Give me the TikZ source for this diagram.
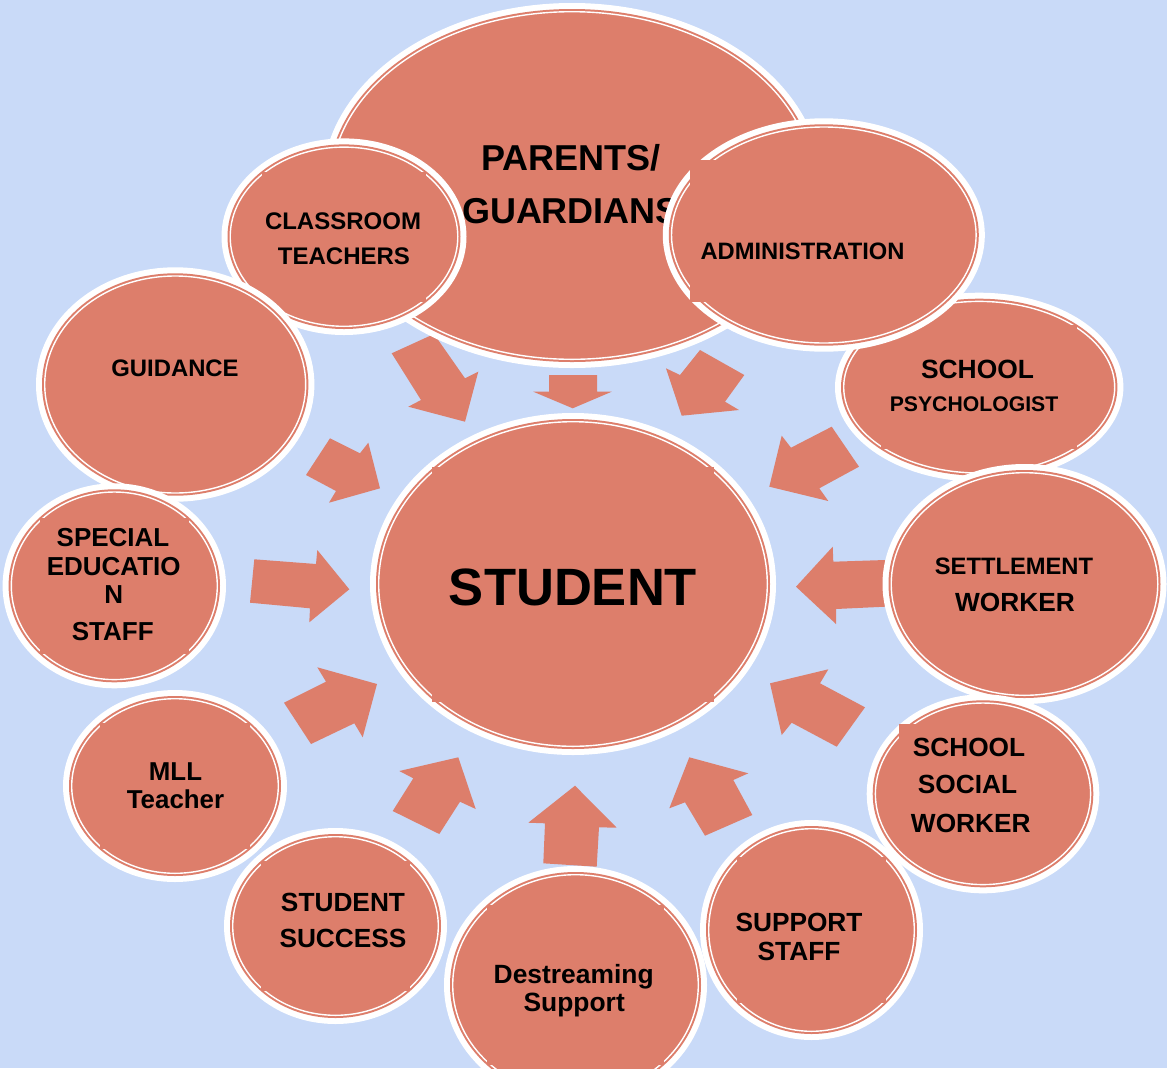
\documentclass[tikz,border=0pt]{standalone}
\usepackage{fontspec}
\setmainfont{Liberation Sans}
\definecolor{salm}{HTML}{DD7E6B}
\definecolor{bgblue}{HTML}{C9DAF8}
\newcommand{\szz}[1]{\fontsize{#1pt}{#1pt}\selectfont\bfseries}
\tikzset{
  lbl/.style={text=black, inner sep=0pt, anchor=base},
  blockarrow/.style={fill=salm},
}
\newcommand{\bubble}[5]{%
  \coordinate (#1) at (#2,#3);
  \fill[white] (#1) ellipse [x radius=#4, y radius=#5];
  \fill[salm] (#1) ellipse [x radius=#4-6, y radius=#5-6];
  \draw[white, line width=1.05pt] (#1) ellipse [x radius=#4-8.7, y radius=#5-8.7];
}
\newcommand{\ticks}[4]{%
  \pgfmathsetmacro\tkx{0.724*(#3-8.7)}%
  \pgfmathsetmacro\tky{0.724*(#4-8.7)}%
  \fill[salm] (#1-\tkx,#2-\tky) rectangle (#1+\tkx,#2+\tky);
}
\begin{document}
\begin{tikzpicture}[x=0.75pt, y=-0.75pt]
\useasboundingbox (0,0) rectangle (1167,1068);
\fill[bgblue] (0,0) rectangle (1167,1068);
\clip (0,0) rectangle (1167,1068);

% block arrows
\fill[blockarrow] (391.7,353.3) -- (421,400) -- (408.3,406.7) -- (465,421.7) -- (478.3,371.7) -- (465,378.3) -- (434,334) -- cycle;
\fill[blockarrow] (549,375) -- (549,391.7) -- (533.3,391.7) -- (572.7,408.3) -- (611.7,391.7) -- (597,391.7) -- (597,375) -- cycle;
\fill[blockarrow] (700,350) -- (680,375) -- (666,368.3) -- (681.7,415.7) -- (739,410) -- (725,401.7) -- (744.3,375) -- cycle;
\fill[blockarrow] (330,438.3) -- (360,453.3) -- (368.3,442.7) -- (380,488.3) -- (329,502.7) -- (336,491) -- (306,475) -- cycle;
\fill[blockarrow] (831.7,426.7) -- (791,447.7) -- (781.7,435.7) -- (769.3,486.7) -- (828.3,501) -- (819.3,488.3) -- (859,466.7) -- cycle;
\fill[blockarrow] (254.3,559.3) -- (316,564) -- (317.3,550) -- (349.3,589.3) -- (309.3,622.3) -- (310,608.3) -- (250,602.7) -- cycle;
\fill[blockarrow] (885,560) -- (833.3,561.7) -- (832.7,546.7) -- (796,586.7) -- (836,624) -- (836,609) -- (885,606.7) -- cycle;
\fill[blockarrow] (311,744) -- (284,702.7) -- (326,681.7) -- (317.3,667.3) -- (377,684) -- (362.7,737.3) -- (354.3,723.3) -- cycle;
\fill[blockarrow] (865,707.3) -- (820,683.3) -- (828.3,669.3) -- (770,683.3) -- (781.7,735) -- (791.7,722.7) -- (836.7,746.7) -- cycle;
\fill[blockarrow] (439.3,834) -- (392.7,811) -- (413.3,778.3) -- (399.3,771) -- (458.3,757.3) -- (475.7,809) -- (460,801.7) -- cycle;
\fill[blockarrow] (543.3,863.3) -- (545,823.3) -- (528.3,822.7) -- (575,785.7) -- (616.7,827.7) -- (599,827.3) -- (596.7,866.7) -- cycle;
\fill[blockarrow] (752.3,815) -- (733.3,780) -- (748.3,773.3) -- (689.3,757.3) -- (669.3,808.3) -- (685,802.3) -- (705,835.7) -- cycle;

% parents / guardians
\bubble{parents}{572}{185.5}{250}{182.5}
\node[lbl, font=\szz{27}] (tpa) at (571,170) {PARENTS/};
\node[lbl, font=\szz{27}] (tpb) at (571,223) {GUARDIANS};

% classroom teachers
\bubble{classroom}{344}{236.7}{122.5}{98.3}
\ticks{344}{236.7}{122.5}{98.3}
\node[lbl, font=\szz{18}] (tca) at (343,229.3) {CLASSROOM};
\node[lbl, font=\szz{18}] (tcb) at (344,264) {TEACHERS};

% school psychologist
\bubble{psych}{979.2}{387.2}{144.2}{94.5}
\ticks{979.2}{387.2}{144.2}{94.5}
\node[lbl, font=\szz{19.8}] (tpsa) at (977.5,378.3) {SCHOOL};
\node[lbl, font=\szz{15.9}] (tpsb) at (974,411.7) {PSYCHOLOGIST};

% administration
\bubble{admin}{823.8}{235}{161}{116.7}
\fill[salm] (690,160) rectangle (900,302);
\node[lbl, font=\szz{17.8}] (tad) at (802.5,259.3) {ADMINISTRATION};

% guidance
\bubble{guidance}{175.2}{384.5}{139.2}{117.2}
\node[lbl, font=\szz{17.9}] (tgu) at (175,376.7) {GUIDANCE};

% special education staff
\bubble{speced}{114.3}{585.8}{111.7}{102.5}
\ticks{114.3}{585.8}{111.7}{102.5}
\node[lbl, font=\szz{19.5}] (tsea) at (113,546.7) {SPECIAL};
\node[lbl, font=\szz{19.5}] (tseb) at (113.7,575) {EDUCATIO};
\node[lbl, font=\szz{19.5}] (tsec) at (113.8,603.3) {N};
\node[lbl, font=\szz{19.5}] (tsed) at (112.8,640.7) {STAFF};

% settlement worker
\bubble{settle}{1024.5}{584}{142}{120}
\node[lbl, font=\szz{17.8}] (tsta) at (1014,574.5) {SETTLEMENT};
\node[lbl, font=\szz{19.7}] (tstb) at (1015,611.4) {WORKER};

% student
\bubble{student}{573}{584}{203}{171}
\ticks{573}{584}{203}{171}
\node[lbl, font=\szz{39.4}] (tstu) at (573,605.5) {STUDENT};

% MLL teacher
\bubble{mll}{175}{786}{112}{96}
\ticks{175}{786}{112}{96}
\node[lbl, font=\szz{19.4}] (tmla) at (175.5,780) {MLL};
\node[lbl, font=\szz{19.4}] (tmlb) at (175.5,808) {Teacher};

% school social worker
\bubble{social}{983}{793.8}{116.3}{99.5}
\fill[salm] (899,723.5) rectangle (1040,850);
\node[lbl, font=\szz{19.7}] (tswa) at (969,756) {SCHOOL};
\node[lbl, font=\szz{19.7}] (tswb) at (967.5,793.3) {SOCIAL};
\node[lbl, font=\szz{19.7}] (tswc) at (970.8,832.3) {WORKER};

% student success
\bubble{success}{335.5}{926}{111.5}{98}
\ticks{335.5}{926}{111.5}{98}
\node[lbl, font=\szz{19.7}] (tssa) at (343,911.4) {STUDENT};
\node[lbl, font=\szz{19.7}] (tssb) at (343,947.4) {SUCCESS};

% destreaming support
\bubble{destream}{575.5}{985}{131.5}{119}
\ticks{575.5}{985}{131.5}{119}
\node[lbl, font=\szz{19.8}] (tdsa) at (573.7,983.3) {Destreaming};
\node[lbl, font=\szz{19.8}] (tdsb) at (574.2,1011.7) {Support};

% support staff
\bubble{support}{811.5}{930}{111.5}{110}
\ticks{811.5}{930}{111.5}{110}
\node[lbl, font=\szz{19.7}] (tspa) at (799,931.4) {SUPPORT};
\node[lbl, font=\szz{19.7}] (tspb) at (799,960.4) {STAFF};
\end{tikzpicture}
\end{document}
